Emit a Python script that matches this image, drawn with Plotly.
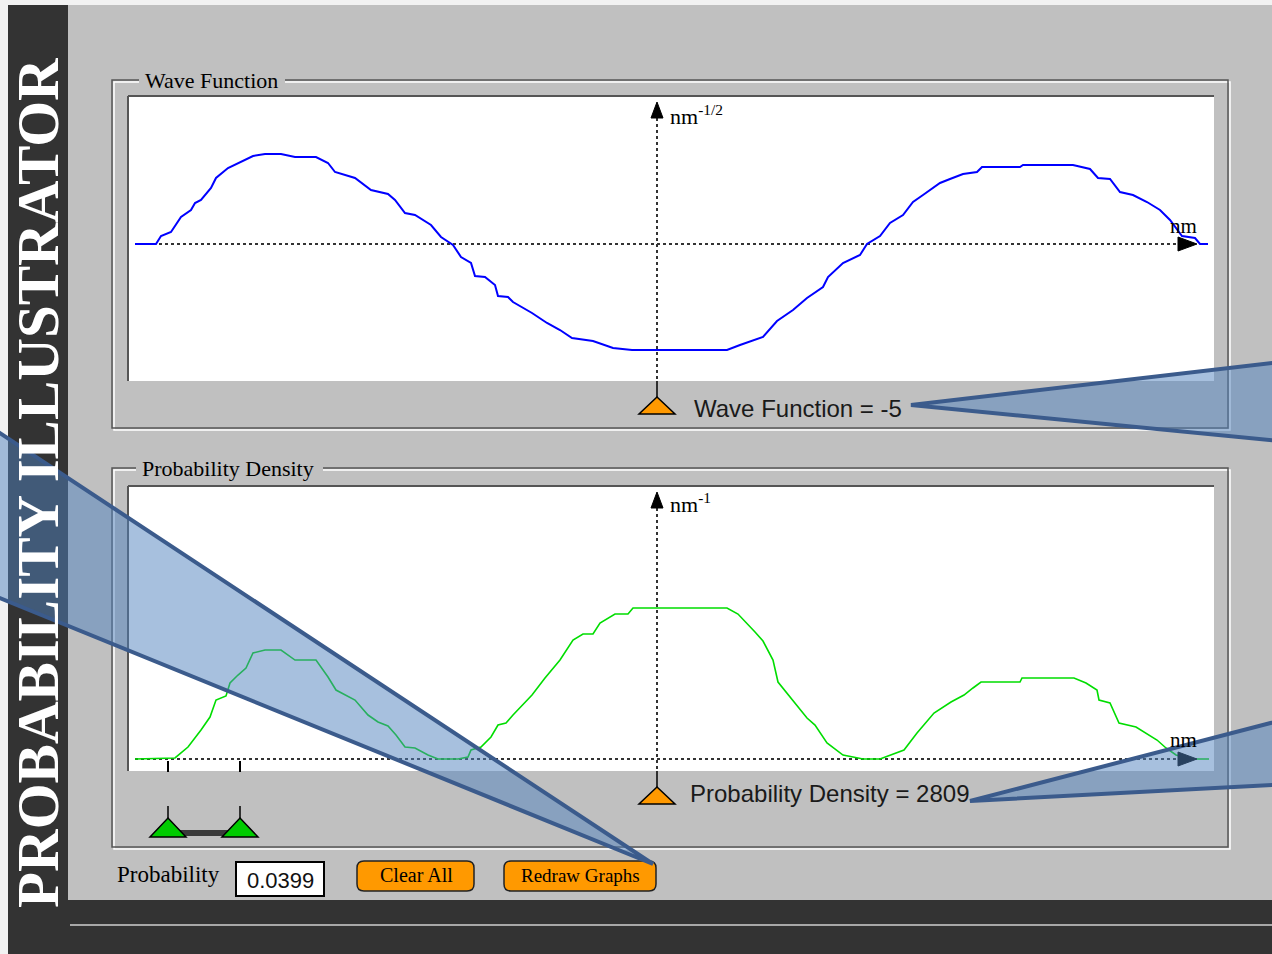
import plotly.graph_objects as go

W, H = 1272, 954

# Wave function psi(x) sampled along the well (x in nm, psi in nm^-1/2 units)
x_wave = [-5.22, -5.01, -4.96, -4.86, -4.76, -4.66, -4.62, -4.56, -4.46, -4.41,
          -4.29, -4.19, -4.04, -3.92, -3.76, -3.62, -3.41, -3.29, -3.22, -3.02,
          -2.86, -2.69, -2.62, -2.52, -2.42, -2.26, -2.16, -2.04, -1.96, -1.86,
          -1.82, -1.72, -1.62, -1.59, -1.49, -1.44, -1.25, -1.10, -0.97, -0.85,
          -0.64, -0.44, -0.25, 0.0, 0.70, 0.83, 1.06, 1.20, 1.36, 1.50,
          1.66, 1.71, 1.86, 2.03, 2.10, 2.23, 2.33, 2.46, 2.56, 2.66,
          2.83, 2.93, 3.06, 3.20, 3.25, 3.63, 3.66, 4.16, 4.33, 4.41,
          4.53, 4.63, 4.76, 4.90, 5.03, 5.13, 5.25, 5.38, 5.43, 5.51]
psi = [0, 0, 4, 6, 13.5, 17, 20.5, 22, 28, 33,
       38, 40.5, 44, 45, 45, 43.5, 43.5, 40.5, 36, 33,
       27, 25, 22, 15.5, 14.5, 9.5, 3.5, -0.5, -6.5, -9.5,
       -16, -16.5, -20.5, -26, -26.5, -29, -34.5, -39.5, -43, -47,
       -48.5, -52, -53, -53, -53, -50.5, -46.5, -38.5, -33, -27,
       -21.5, -16.5, -9.5, -5.5, 0, 4, 10.5, 14.5, 21, 24.5,
       30.5, 32.5, 35, 36, 38.5, 38.5, 39.5, 39.5, 37.5, 33,
       32.5, 26, 24.5, 21, 17, 12, 4, 3, 0, 0]

# Probability density |psi|^2 (nm^-1 units)
x_dens = [-5.22, -4.82, -4.69, -4.62, -4.56, -4.47, -4.41, -4.31, -4.27, -4.19,
          -4.11, -4.04, -3.92, -3.76, -3.62, -3.41, -3.29, -3.21, -3.02, -2.89,
          -2.79, -2.69, -2.61, -2.52, -2.42, -2.29, -2.19, -1.99, -1.89, -1.86,
          -1.76, -1.66, -1.59, -1.51, -1.44, -1.25, -1.12, -0.97, -0.84, -0.74,
          -0.64, -0.57, -0.42, -0.29, -0.24, 0.0, 0.70, 0.81, 0.90, 0.98,
          1.06, 1.16, 1.21, 1.36, 1.50, 1.58, 1.70, 1.86, 2.06, 2.23,
          2.47, 2.60, 2.77, 2.94, 3.07, 3.16, 3.24, 3.63, 3.65, 4.17,
          4.29, 4.40, 4.42, 4.53, 4.62, 4.79, 5.00, 5.09, 5.19, 5.34, 5.52]
density = [0, 19, 223, 391, 540, 781, 1097, 1172, 1414, 1562,
           1693, 1972, 2027, 2027, 1841, 1841, 1525, 1283, 1097, 818,
           688, 614, 446, 223, 205, 74, 0, 0, 37, 167,
           223, 409, 632, 670, 818, 1190, 1507, 1841, 2213, 2325,
           2325, 2530, 2697, 2697, 2809, 2809, 2809, 2697, 2530, 2362,
           2195, 1841, 1432, 1097, 763, 632, 298, 74, 0, 0,
           167, 484, 856, 1060, 1190, 1321, 1432, 1432, 1507, 1507,
           1414, 1283, 1097, 1042, 670, 595, 353, 205, 74, 0, 0]

cursor_x = 0.0
prob_interval = [-4.89, -4.17]
probability_text = "0.0399"
wave_readout = "-5"
dens_readout = density[x_dens.index(cursor_x)]

# ---------- pixel helpers (paper coordinates) ----------
def X(p):
    return p / W


def Y(p):
    return 1 - p / H


GRAY = "#c0c0c0"
DARK = "#333333"
EDGE = "#555555"
SERIF = "Liberation Serif, Times New Roman, serif"
SANS = "Liberation Sans, Arial, sans-serif"

# plot windows (pixels)
PL, PR = 128, 1214
TOP_T, TOP_B = 96, 381
BOT_T, BOT_B = 486, 771
# axis calibration: x 100 px per nm centred at 657 px
X0_PX, PX_PER_NM = 657, 100.0
PSI_BASE, PSI_PER_PX = 244, 0.5
DEN_BASE, DEN_PER_PX = 759, 2809 / 151

xr = [(PL - X0_PX) / PX_PER_NM, (PR - X0_PX) / PX_PER_NM]
yr_top = [(PSI_BASE - TOP_B) * PSI_PER_PX, (PSI_BASE - TOP_T) * PSI_PER_PX]
yr_bot = [(DEN_BASE - BOT_B) * DEN_PER_PX, (DEN_BASE - BOT_T) * DEN_PER_PX]

fig = go.Figure()
fig.add_trace(go.Scatter(x=x_wave, y=psi, mode="lines",
                         line=dict(color="#0000ff", width=2),
                         hoverinfo="skip", showlegend=False,
                         xaxis="x", yaxis="y"))
fig.add_trace(go.Scatter(x=x_dens, y=density, mode="lines",
                         line=dict(color="#00dd00", width=1.6),
                         hoverinfo="skip", showlegend=False,
                         xaxis="x2", yaxis="y2"))

shapes = []


def rect(x0, y0, x1, y1, fill=None, line=None, lw=0, layer="below"):
    shapes.append(dict(type="rect", xref="paper", yref="paper",
                       x0=X(x0), x1=X(x1), y0=Y(y0), y1=Y(y1),
                       fillcolor=fill if fill else "rgba(0,0,0,0)",
                       line=dict(color=line if line else "rgba(0,0,0,0)", width=lw),
                       layer=layer))


def pline(x0, y0, x1, y1, color, width, layer="below", dash="solid"):
    shapes.append(dict(type="line", xref="paper", yref="paper",
                       x0=X(x0), x1=X(x1), y0=Y(y0), y1=Y(y1),
                       line=dict(color=color, width=width, dash=dash), layer=layer))


def rounded(x0, y0, x1, y1, r, fill, line, lw):
    rx, ry = r / W, r / H
    a, b, c, d = X(x0), X(x1), Y(y0), Y(y1)
    path = (f"M{a+rx},{c} L{b-rx},{c} Q{b},{c} {b},{c-ry} L{b},{d+ry} "
            f"Q{b},{d} {b-rx},{d} L{a+rx},{d} Q{a},{d} {a},{d+ry} L{a},{c-ry} "
            f"Q{a},{c} {a+rx},{c} Z")
    shapes.append(dict(type="path", xref="paper", yref="paper", path=path,
                       fillcolor=fill, line=dict(color=line, width=lw), layer="below"))


# application background
rect(8, 5, 68, 954, fill=DARK)
rect(68, 5, 1272, 900, fill=GRAY)
rect(68, 900, 1272, 954, fill=DARK)
pline(70, 925, 1272, 925, "#a8a8a8", 2)

# etched group boxes and sunken plot windows
for (gt, gb, pt, pb) in [(80, 428, TOP_T, TOP_B), (468, 847, BOT_T, BOT_B)]:
    rect(114, gt + 2, 1230, gb + 2, line="#ffffff", lw=1.5)
    rect(112, gt, 1228, gb, line=EDGE, lw=1.5)

# group box captions sit on a gray patch that breaks the etched line
rect(139, 72, 285, 88, fill=GRAY)
rect(136, 460, 323, 476, fill=GRAY)

for (pt, pb) in [(TOP_T, TOP_B), (BOT_T, BOT_B)]:
    rect(PL, pt, PR, pb, fill="#ffffff")
    pline(PL, pt, PR, pt, EDGE, 2)
    pline(PL, pt, PL, pb, EDGE, 2)


def data_shapes(xa, base_px, top_px, bottom_px):
    # dotted axes
    shapes.append(dict(type="line", xref=xa, yref="paper",
                       x0=-5.22, x1=5.21, y0=Y(base_px), y1=Y(base_px),
                       line=dict(color="#333333", width=2, dash="dot"), layer="below"))
    shapes.append(dict(type="line", xref=xa, yref="paper",
                       x0=cursor_x, x1=cursor_x, y0=Y(top_px + 22), y1=Y(bottom_px),
                       line=dict(color="#333333", width=2, dash="dot"), layer="below"))
    # arrow heads
    shapes.append(dict(type="path", xref=xa, yref="paper",
                       path=f"M{cursor_x-0.06},{Y(top_px+22)} L{cursor_x+0.06},{Y(top_px+22)} "
                            f"L{cursor_x},{Y(top_px+6)} Z",
                       fillcolor="#000000", line=dict(color="#000000", width=1), layer="above"))
    shapes.append(dict(type="path", xref=xa, yref="paper",
                       path=f"M5.21,{Y(base_px-7)} L5.40,{Y(base_px)} L5.21,{Y(base_px+7)} Z",
                       fillcolor="#000000", line=dict(color="#000000", width=1), layer="above"))
    # cursor stem + orange slider triangle
    shapes.append(dict(type="line", xref=xa, yref="paper",
                       x0=cursor_x, x1=cursor_x, y0=Y(bottom_px), y1=Y(bottom_px + 17),
                       line=dict(color="#000000", width=1.5), layer="above"))
    shapes.append(dict(type="path", xref=xa, yref="paper",
                       path=f"M{cursor_x-0.18},{Y(bottom_px+33)} L{cursor_x+0.18},{Y(bottom_px+33)} "
                            f"L{cursor_x},{Y(bottom_px+16)} Z",
                       fillcolor="#ff9900", line=dict(color="#000000", width=1.5), layer="above"))


data_shapes("x", PSI_BASE, TOP_T, TOP_B)
data_shapes("x2", DEN_BASE, BOT_T, BOT_B)

# probability interval markers under the density window
for xv in prob_interval:
    shapes.append(dict(type="line", xref="x2", yref="paper", x0=xv, x1=xv,
                       y0=Y(761), y1=Y(772), line=dict(color="#000000", width=2), layer="above"))
shapes.append(dict(type="rect", xref="x2", yref="paper",
                   x0=prob_interval[0], x1=prob_interval[1], y0=Y(830), y1=Y(836),
                   fillcolor="#3a3a3a", line=dict(width=0), layer="above"))
for xv in prob_interval:
    shapes.append(dict(type="line", xref="x2", yref="paper", x0=xv, x1=xv,
                       y0=Y(806), y1=Y(819), line=dict(color="#000000", width=1.5), layer="above"))
    shapes.append(dict(type="path", xref="x2", yref="paper",
                       path=f"M{xv-0.18},{Y(837)} L{xv+0.18},{Y(837)} L{xv},{Y(818)} Z",
                       fillcolor="#00cc00", line=dict(color="#000000", width=1.5), layer="above"))

# controls row
rect(236, 862, 324, 896, fill="#ffffff", line="#000000", lw=2)
rounded(357, 861, 474, 891, 7, "#ff9900", "#222222", 1.5)
rounded(504, 861, 656, 891, 7, "#ff9900", "#222222", 1.5)

# callout wedges
CALL_FILL = "rgba(79,129,189,0.5)"
CALL_LINE = "#3b5b8c"
for pts in [[(911, 405), (1290, 361), (1290, 442)],
            [(970, 801), (1290, 718), (1290, 784)],
            [(653, 864), (-20, 420), (-20, 590)]]:
    p = " ".join(("M" if i == 0 else "L") + f"{X(a)},{Y(b)}" for i, (a, b) in enumerate(pts)) + " Z"
    shapes.append(dict(type="path", xref="paper", yref="paper", path=p,
                       fillcolor=CALL_FILL, line=dict(color=CALL_LINE, width=4), layer="above"))

ann = []


def text(t, x, y, size, family, color="#000000", xanchor="left", yanchor="middle",
         angle=0):
    ann.append(dict(text=t, x=X(x), y=Y(y), xref="paper", yref="paper",
                    xanchor=xanchor, yanchor=yanchor, showarrow=False, textangle=angle,
                    font=dict(size=size, family=family, color=color)))


text("<b>PROBABILITY ILLUSTRATOR</b>", 38, 483, 59, SERIF, color="#ffffff",
     xanchor="center", angle=-90)
text("Wave Function", 143, 80, 22, SERIF)
text("Probability Density", 140, 468, 22, SERIF)
text("nm<sup>-1/2</sup>", 668, 115, 22, SERIF)
text("nm<sup>-1</sup>", 668, 503, 22, SERIF)
text("nm", 1183, 226, 21, SERIF, xanchor="center")
text("nm", 1183, 740, 21, SERIF, xanchor="center")
text(f"Wave Function = {wave_readout}", 692, 408, 24, SANS, color="#1a1a1a")
text(f"Probability Density = {dens_readout}", 688, 793, 24, SANS, color="#1a1a1a")
text("Probability", 115, 874, 23, SERIF)
text(probability_text, 280, 880, 22, SANS, color="#111111", xanchor="center")
text("Clear All", 416, 875, 20, SERIF, xanchor="center")
text("Redraw Graphs", 580, 875, 19, SERIF, xanchor="center")

axis_common = dict(visible=False, fixedrange=True, showgrid=False, zeroline=False)
fig.update_layout(
    width=W, height=H, autosize=False,
    margin=dict(l=0, r=0, t=0, b=0),
    paper_bgcolor="#f2f2f2", plot_bgcolor="rgba(0,0,0,0)",
    xaxis=dict(domain=[X(PL), X(PR)], range=xr, **axis_common),
    yaxis=dict(domain=[Y(TOP_B), Y(TOP_T)], range=yr_top, **axis_common),
    xaxis2=dict(domain=[X(PL), X(PR)], range=xr, anchor="y2", **axis_common),
    yaxis2=dict(domain=[Y(BOT_B), Y(BOT_T)], range=yr_bot, anchor="x2", **axis_common),
    shapes=shapes, annotations=ann,
)

fig.write_html("out.html", config={"displayModeBar": False})
